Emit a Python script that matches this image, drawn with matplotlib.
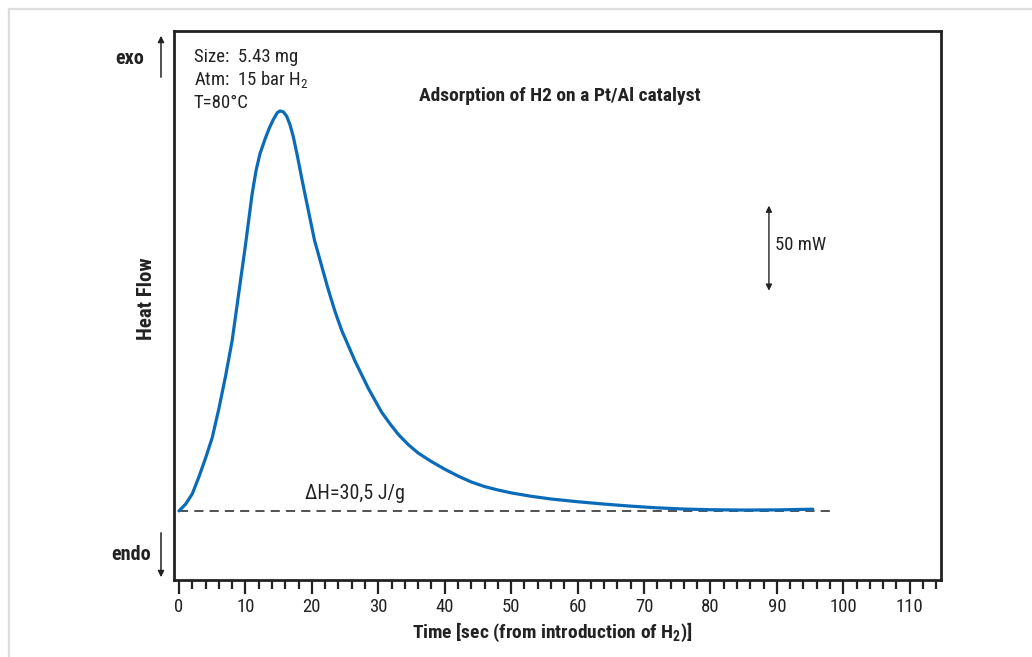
import matplotlib
matplotlib.use("Agg")
import matplotlib.pyplot as plt
from matplotlib import font_manager
from matplotlib.lines import Line2D
from matplotlib.patches import FancyArrowPatch
from matplotlib.ticker import MultipleLocator

# ---------------- data ----------------
time_s = [0, 1, 2, 3, 4, 5, 6, 7, 8, 9, 10, 11, 11.6, 12.2, 13, 13.6, 14.2,
          14.8, 15.2, 15.7, 16.2, 16.7, 17.2, 17.8, 18.5, 19.5, 20.4, 21.4,
          22.4, 23.5, 24.5, 25.5, 26.5, 27.5, 28.5, 29.5, 30.5, 31.8, 33,
          34.5, 36, 38, 40, 42, 44, 46, 48, 50, 53, 56, 60, 64, 68, 72, 76,
          80, 85, 90, 95.4]
heat_flow_mw = [0, 4, 10, 20, 31, 43, 60, 79, 100, 128, 156, 186, 200, 210,
                219, 225, 230, 234, 235, 234.5, 232, 227, 220, 209, 195, 176,
                159, 145, 131, 117, 106, 97, 88, 80, 72, 65, 58, 51, 45,
                39, 34, 29, 24.5, 20.5, 17, 14.3, 12.3, 10.6, 8.6, 7, 5.4, 4,
                2.8, 1.8, 1.1, 0.7, 0.5, 0.6, 1.0]
baseline_t = [0, 98.7]
baseline_hf = [0, 0]
xticks = [0, 10, 20, 30, 40, 50, 60, 70, 80, 90, 100, 110]
title = "Adsorption of H2 on a Pt/Al catalyst"
info_lines = ["Size:  5.43 mg", "Atm:  15 bar H$_2$", "T=80°C"]
scale_bar_mw = 50
dh_label = "ΔH=30,5 J/g"

# ---------------- fonts ----------------
avail = {f.name for f in font_manager.fontManager.ttflist}
font = next((f for f in ["Liberation Sans Narrow", "Roboto Condensed",
                         "Open Sans Condensed", "Liberation Sans", "DejaVu Sans"]
             if f in avail), "DejaVu Sans")
plt.rcParams["font.family"] = [font, "DejaVu Sans"]
plt.rcParams["mathtext.fontset"] = "custom"
plt.rcParams["mathtext.rm"] = font
plt.rcParams["mathtext.bf"] = font + ":bold"

dark = "#222222"
blue = "#0a6cb8"

W, H = 1032, 657
fig = plt.figure(figsize=(W / 100, H / 100), dpi=100)
fig.patch.set_facecolor("white")

def fx(px):
    return px / W

def fy(py):
    return 1 - py / H

# outer light frame
fig.add_artist(Line2D([fx(9), fx(1032)], [fy(9), fy(9)], color="#dddddd", lw=1.6))
fig.add_artist(Line2D([fx(9), fx(9)], [fy(9), fy(657)], color="#dddddd", lw=1.6))

ax = fig.add_axes([fx(174), fy(580), fx(941) - fx(174), fy(31) - fy(580)])
ax.set_xlim(-0.75, 114.7)
ax.set_ylim(-40.6, 282)

ax.plot(time_s, heat_flow_mw, color=blue, lw=2.3, solid_joinstyle="round",
        solid_capstyle="round", zorder=3)
ax.plot(baseline_t, baseline_hf, color=dark, lw=1.1, dashes=(6, 4), zorder=2)

for s in ["left", "bottom", "right", "top"]:
    ax.spines[s].set_color(dark)
    ax.spines[s].set_linewidth(2)

ax.set_yticks([])
ax.set_xticks(xticks)
ax.xaxis.set_minor_locator(MultipleLocator(2))
ax.tick_params(axis="x", which="major", direction="out", length=10, width=1.6,
               color=dark, labelsize=13.5, labelcolor=dark, pad=3)
ax.tick_params(axis="x", which="minor", direction="out", length=6.5, width=1.6,
               color=dark)

ax.text(19.0, 10, dh_label, fontsize=14.5, color=dark, ha="left", va="center")

# 50 mW scale bar
ax.annotate("", xy=(88.8, 129.4 + scale_bar_mw), xytext=(88.8, 129.4),
            arrowprops=dict(arrowstyle="<|-|>", color=dark, lw=1.0,
                            mutation_scale=9, shrinkA=0, shrinkB=0))
fig.text(fx(775), fy(245), f"{scale_bar_mw} mW", fontsize=13.5, color=dark,
         ha="left", va="center")

# info text
for txt, py in zip(info_lines, [57, 80, 103]):
    fig.text(fx(194), fy(py), txt, fontsize=13.5, color=dark, ha="left", va="center")

fig.text(fx(560), fy(96), title, fontsize=14, fontweight="bold", color=dark,
         ha="center", va="center")

# exo / endo
fig.text(fx(130), fy(58), "exo", fontsize=14.5, fontweight="bold", color=dark,
         ha="center", va="center")
fig.text(fx(131), fy(555), "endo", fontsize=14.5, fontweight="bold", color=dark,
         ha="center", va="center")
fig.add_artist(FancyArrowPatch(
    (fx(161), fy(80)), (fx(161), fy(33)), transform=fig.transFigure,
    arrowstyle="-|>", mutation_scale=9, color=dark, lw=1.1))
fig.add_artist(FancyArrowPatch(
    (fx(161), fy(530)), (fx(161), fy(580)), transform=fig.transFigure,
    arrowstyle="-|>", mutation_scale=9, color=dark, lw=1.1))

fig.text(fx(146), fy(299), "Heat Flow", fontsize=15, fontweight="bold",
         color=dark, rotation=90, ha="center", va="center")

fig.text(fx(552), fy(632), r"Time [sec (from introduction of H$_\mathbf{2}$)]",
         fontsize=14, fontweight="bold", color=dark, ha="center", va="center")

fig.savefig("out.png", dpi=100, facecolor="white")
